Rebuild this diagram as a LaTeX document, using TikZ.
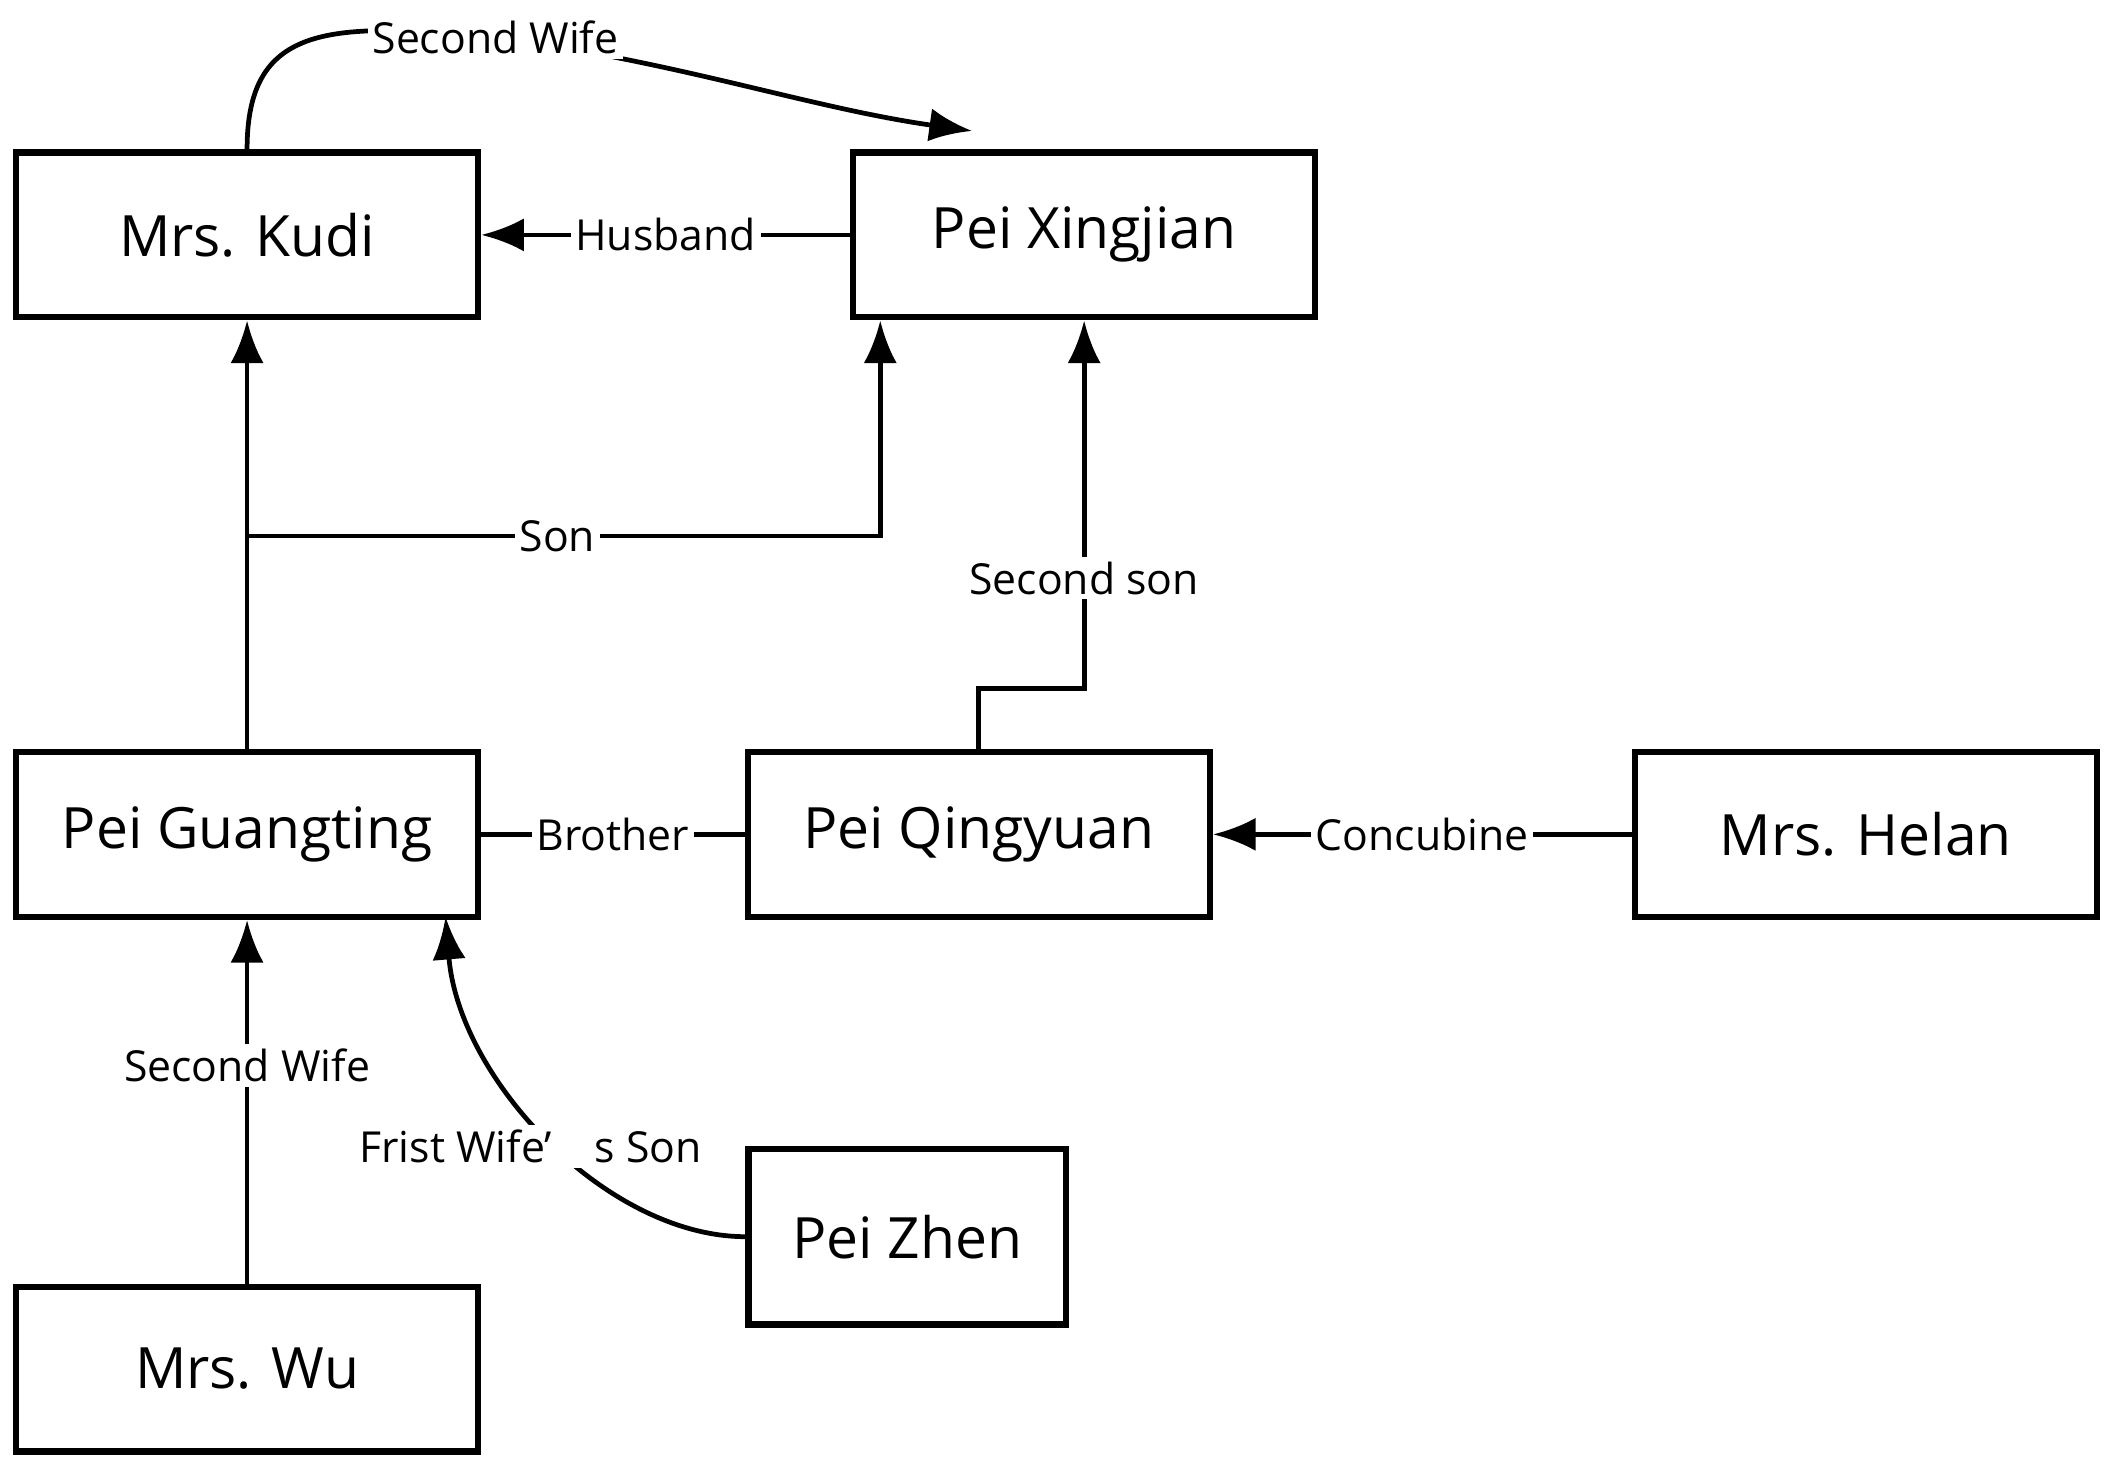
\documentclass[tikz,border=0pt]{standalone}
\usepackage{fontspec}
\setmainfont{Open Sans}
\usetikzlibrary{arrows.meta}

\begin{document}
\begin{tikzpicture}[x=0.01cm,y=-0.01cm,
    person/.style={draw,line width=1.3pt,inner sep=0pt,minimum width=3.42cm,minimum height=1.22cm,font=\fontsize{12}{14}\selectfont},
    rel/.style={line width=1pt,-{Latex[length=9pt,width=7pt]}},
    lbl/.style={fill=white,inner sep=1pt,font=\fontsize{9}{11}\selectfont}]
  \useasboundingbox (0,0) rectangle (1568,1095);

  \node[person] (kudi) at (183,174) {Mrs. Kudi};
  \node[person] (xing) at (803,174) {Pei Xingjian};
  \node[person] (guang) at (183,618) {Pei Guangting};
  \node[person] (qing) at (725,618) {Pei Qingyuan};
  \node[person] (helan) at (1382,618) {Mrs. Helan};
  \node[person,minimum width=2.35cm,minimum height=1.3cm] (zhen) at (672,916) {Pei Zhen};
  \node[person] (wu) at (183,1014) {Mrs. Wu};

  \coordinate (top) at (720,97);
  \coordinate (fork) at (183,397);
  \coordinate (sonend) at (652,397);
  \coordinate (qbend) at (725,510);
  \coordinate (qbend2) at (803,510);

  % Upper relations
  \draw[rel] (kudi.north) .. controls (183,20) and (240,15) .. (367,28)
    .. controls (500,45) and (600,80) .. (top);
  \node[lbl] at (367,28) {Second Wife};
  \draw[rel] (xing.west) -- node[lbl]{Husband} (kudi.east);
  \draw[rel] (guang.north) -- (kudi.south);
  \draw[rel] (fork) -- node[lbl,pos=0.49]{Son} (sonend) -- (sonend |- xing.south);
  \draw[rel] (qing.north) -- (qbend) -- (qbend2) -- node[lbl,pos=0.3]{Second son} (xing.south);

  % Middle row
  \draw[line width=1pt] (guang.east) -- node[lbl]{Brother} (qing.west);
  \draw[rel] (helan.west) -- node[lbl]{Concubine} (qing.east);

  % Lower relations
  \draw[rel] (wu.north) -- node[lbl,pos=0.6]{Second Wife} (guang.south);
  \draw[rel] (zhen.west) .. controls (450,916) and (340,800) .. (330,679);
  \node[lbl] at (393,849) {Frist Wife’\quad s Son};
\end{tikzpicture}
\end{document}
